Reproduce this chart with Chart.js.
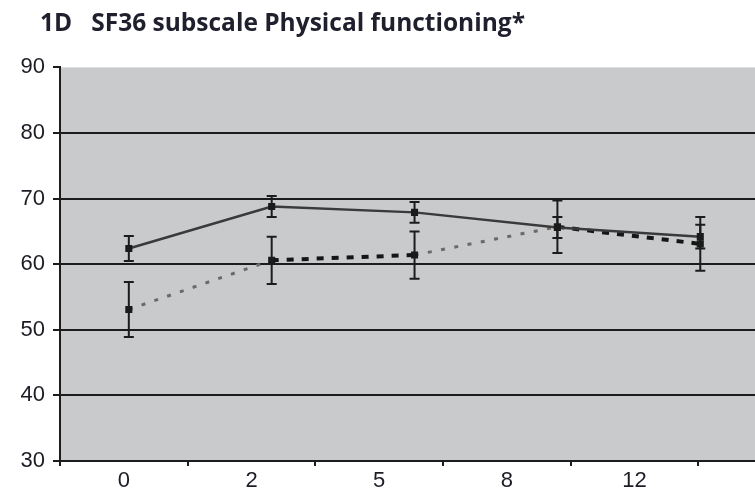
<!DOCTYPE html>
<html>
<head>
<meta charset="utf-8">
<script src="https://cdn.jsdelivr.net/npm/chart.js@4.4.0/dist/chart.umd.min.js"></script>
<style>
  html, body { margin: 0; padding: 0; background: #fff; overflow: hidden; }
  #wrap { width: 755px; height: 493px; overflow: hidden; }
</style>
</head>
<body>
<div id="wrap"><canvas id="sf36" width="831" height="493"></canvas></div>
<script>
// months of follow-up
var months = ['0', '2', '5', '8', '12'];
// solid line group, mean and error
var groupA = [62.4, 68.8, 67.9, 65.6, 64.2];
var errA = [1.9, 1.6, 1.6, 1.6, 1.8];
// dotted line group, mean and error
var groupB = [53.1, 60.6, 61.4, 65.7, 63.1];
var errB = [4.2, 3.6, 3.6, 4.0, 4.1];
var yTicks = [30, 40, 50, 60, 70, 80, 90];

var ink = '#1c1c1c';

function puntos(serie){
	return serie.map(function(v, i){ return {x: i, y: v}; });
}

// grey plot area
var fondo = {
	id: 'fondo',
	beforeDraw: function(chart){
		var ctx = chart.ctx, a = chart.chartArea;
		ctx.save();
		ctx.fillStyle = '#fff';
		ctx.fillRect(0, 0, chart.width, chart.height);
		ctx.fillStyle = '#c9cacc';
		ctx.fillRect(a.left, a.top, a.right - a.left, a.bottom - a.top);
		ctx.restore();
	}
};

// title starts a bit left of the plot, not at the canvas edge
var tituloIzq = {
	id: 'tituloIzq',
	afterLayout: function(chart){
		if (chart.titleBlock) chart.titleBlock.left += 40;
	}
};

// vertical error bars with caps
var barrasError = {
	id: 'barrasError',
	afterDatasetsDraw: function(chart){
		var ctx = chart.ctx, y = chart.scales.y;
		chart.data.datasets.forEach(function(ds, i){
			var meta = chart.getDatasetMeta(i);
			meta.data.forEach(function(pt, j){
				var v = ds.data[j].y, e = ds.err[j];
				var top = y.getPixelForValue(v + e), bot = y.getPixelForValue(v - e);
				ctx.save();
				ctx.strokeStyle = ink;
				ctx.lineWidth = 2;
				ctx.beginPath();
				ctx.moveTo(pt.x, top); ctx.lineTo(pt.x, bot);
				ctx.moveTo(pt.x - 5, top); ctx.lineTo(pt.x + 5, top);
				ctx.moveTo(pt.x - 5, bot); ctx.lineTo(pt.x + 5, bot);
				ctx.stroke();
				ctx.restore();
			});
		});
	}
};

var tickFont = {family: '"Liberation Sans", Arial, sans-serif', size: 22};

new Chart(document.getElementById('sf36'), {
	type: 'line',
	data: {
		labels: months.concat(['']),
		datasets: [
			{
				data: puntos(groupA),
				err: errA,
				xAxisID: 'xd',
				borderColor: '#3a3a3a',
				borderWidth: 2.5,
				pointStyle: 'rect',
				pointRadius: 5,
				pointBackgroundColor: '#1a1a1a',
				pointBorderWidth: 0,
				tension: 0
			},
			{
				data: puntos(groupB),
				err: errB,
				xAxisID: 'xd',
				borderColor: '#666',
				borderWidth: 3,
				borderDash: [4, 9],
				pointStyle: 'rect',
				pointRadius: 5,
				pointBackgroundColor: '#1a1a1a',
				pointBorderWidth: 0,
				tension: 0,
				segment: {
					borderColor: function(c){ return c.p0DataIndex % 2 ? '#151515' : '#6a6a6a'; },
					borderDash: function(c){ return c.p0DataIndex % 2 ? [7, 8] : [4, 9.5]; },
					borderWidth: function(c){ return c.p0DataIndex % 2 ? 4 : 3; }
				}
			}
		]
	},
	options: {
		responsive: false,
		animation: false,
		devicePixelRatio: 1,
		layout: {padding: 0},
		plugins: {
			legend: {display: false},
			tooltip: {enabled: false},
			title: {
				display: true,
				text: '1D   SF36 subscale Physical functioning*',
				align: 'start',
				color: '#1f1f2e',
				font: {family: '"Open Sans", Lato, sans-serif', size: 24.5, weight: 'bold'},
				padding: {top: 9, bottom: 29}
			}
		},
		scales: {
			x: {
				type: 'category',
				offset: true,
				grid: {offset: true, drawOnChartArea: false, tickLength: 5, tickColor: ink, lineWidth: 2},
				border: {color: ink, width: 2},
				ticks: {font: tickFont, color: '#1c1c24', padding: 2, maxRotation: 0, autoSkip: false},
				afterFit: function(s){ s.height = 32; }
			},
			xd: {
				type: 'linear',
				display: false,
				min: -0.4817,
				max: 4.88
			},
			y: {
				min: 30,
				max: 90,
				afterBuildTicks: function(s){ s.ticks = yTicks.map(function(v){ return {value: v}; }); },
				grid: {
					color: function(c){ return c.tick && c.tick.value === 90 ? 'rgba(0,0,0,0)' : ink; },
					lineWidth: 2,
					tickColor: ink,
					tickLength: 7
				},
				border: {color: ink, width: 2},
				ticks: {font: tickFont, color: '#1c1c24', padding: 8},
				afterFit: function(s){ s.width = 60; }
			}
		}
	},
	plugins: [fondo, tituloIzq, barrasError]
});
</script>
</body>
</html>
